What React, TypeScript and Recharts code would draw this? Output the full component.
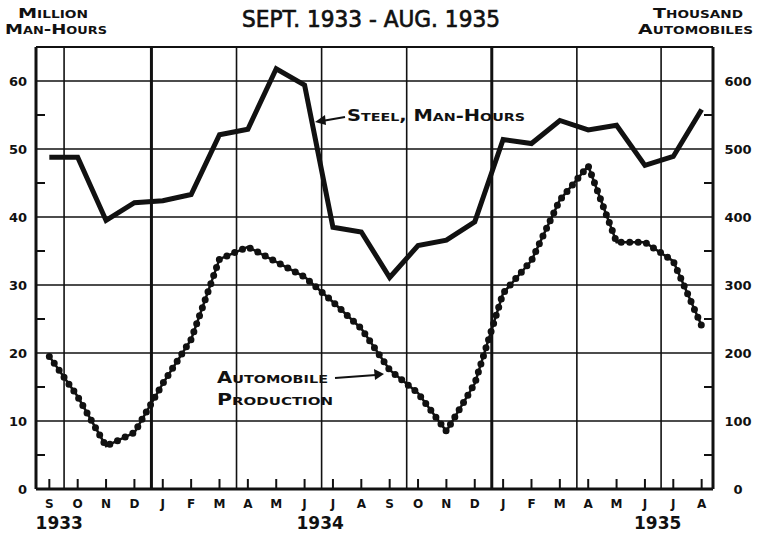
import React from "react";
import {
  ComposedChart, Line, XAxis, YAxis, ReferenceLine,
} from "recharts";

// month letters, Sept 1933 .. Aug 1935
const MONTHS = ["S", "O", "N", "D", "J", "F", "M", "A", "M", "J", "J", "A",
  "S", "O", "N", "D", "J", "F", "M", "A", "M", "J", "J", "A"];
// million man-hours (left axis)
const STEEL = [48.8, 48.8, 39.5, 42.1, 42.4, 43.3, 52.1, 52.9, 61.8, 59.4, 38.5, 37.8,
  31.1, 35.8, 36.6, 39.3, 51.4, 50.8, 54.2, 52.8, 53.5, 47.6, 48.9, 55.8];
// thousand automobiles (right axis)
const AUTOS = [195, 136, 63, 83, 155, 220, 338, 356, 334, 312, 275, 236,
  175, 141, 85, 155, 288, 336, 425, 475, 363, 363, 335, 240];

const YEARS = ["1933", "1934", "1935"];
const YEAR_POS = [0.35, 9.55, 21.45];
const LEFT_TICKS = [0, 5, 10, 15, 20, 25, 30, 35, 40, 45, 50, 55, 60];
const RIGHT_TICKS = [0, 50, 100, 150, 200, 250, 300, 350, 400, 450, 500, 550, 600];
const H_GRID = [10, 20, 30, 40, 50, 60];
const V_GRID = [0.52, 3.6, 6.6, 9.6, 12.6, 15.6, 18.6, 21.57];
const YEAR_BREAKS = [3.6, 15.6];

const data = MONTHS.map((m, i) => ({ i, m, steel: STEEL[i], autos: AUTOS[i] }));

const INK = "#111";
const FONT = "'DejaVu Sans', sans-serif";

const LeftTick = (p: any) => {
  const { x, y, payload } = p;
  const v = payload.value;
  if (v % 10 !== 0) {
    return <line x1={x} x2={x + 9} y1={y} y2={y} stroke={INK} strokeWidth={2} />;
  }
  return (
    <text x={x - 9} y={y} dy={5} textAnchor="end" fontFamily={FONT} fontWeight="bold" fontSize={13} fill={INK}>
      {v}
    </text>
  );
};

const RightTick = (p: any) => {
  const { x, y, payload } = p;
  const v = payload.value;
  if (v % 100 !== 0) {
    return <line x1={x} x2={x - 9} y1={y} y2={y} stroke={INK} strokeWidth={2} />;
  }
  return (
    <text x={x + 25} y={y} dy={5} textAnchor="middle" fontFamily={FONT} fontWeight="bold" fontSize={13} fill={INK}>
      {v}
    </text>
  );
};

const MonthTick = (p: any) => {
  const { x, y, payload } = p;
  return (
    <g>
      <line x1={x} x2={x} y1={y} y2={y - 10} stroke={INK} strokeWidth={2} />
      <text x={x} y={y + 19} textAnchor="middle" fontFamily={FONT} fontWeight="bold" fontSize={12} fill={INK}>
        {MONTHS[payload.value]}
      </text>
    </g>
  );
};

const YearTick = (p: any) => {
  const { x, y, payload } = p;
  const k = YEAR_POS.indexOf(payload.value);
  return (
    <text x={x} y={y + 15} textAnchor="middle" fontFamily={FONT} fontWeight="bold" fontSize={17} fill={INK}>
      {YEARS[k]}
    </text>
  );
};

export default function App() {
  return (
    <div style={{ position: "absolute", left: 0, top: 0, width: 761, height: 536, background: "#fff" }}>
      <ComposedChart width={761} height={536} data={data} margin={{ top: 47, right: 0, left: 0, bottom: 0 }}>
        <XAxis
          xAxisId="m" dataKey="i" type="number" domain={[-0.47, 23.4]} allowDataOverflow
          ticks={data.map((d) => d.i)} interval={0} height={25}
          tickSize={0} tickMargin={0} tickLine={false}
          axisLine={{ stroke: INK, strokeWidth: 3 }} tick={<MonthTick />}
        />
        <XAxis
          xAxisId="y" dataKey="i" type="number" domain={[-0.47, 23.4]} allowDataOverflow
          ticks={YEAR_POS} interval={0} height={22}
          tickSize={0} tickMargin={0} tickLine={false} axisLine={false} tick={<YearTick />}
        />
        <YAxis
          yAxisId="l" domain={[0, 65]} ticks={LEFT_TICKS} interval={0} width={36}
          tickSize={0} tickMargin={0} tickLine={false}
          axisLine={{ stroke: INK, strokeWidth: 3 }} tick={<LeftTick />}
        />
        <YAxis
          yAxisId="r" orientation="right" domain={[0, 650]} ticks={RIGHT_TICKS} interval={0} width={48}
          tickSize={0} tickMargin={0} tickLine={false}
          axisLine={{ stroke: INK, strokeWidth: 3 }} tick={<RightTick />}
        />

        {H_GRID.map((v) => (
          <ReferenceLine key={"h" + v} xAxisId="m" yAxisId="l" y={v} stroke={INK} strokeWidth={1.6} />
        ))}
        <ReferenceLine xAxisId="m" yAxisId="l" y={65} stroke={INK} strokeWidth={2} />
        {V_GRID.map((v) => (
          <ReferenceLine
            key={"v" + v} xAxisId="m" yAxisId="l" x={v} stroke={INK}
            strokeWidth={YEAR_BREAKS.includes(v) ? 3 : 1.6}
          />
        ))}

        <Line
          xAxisId="m" yAxisId="l" dataKey="steel" type="linear" stroke={INK} strokeWidth={5}
          strokeLinejoin="miter" dot={false} activeDot={false} isAnimationActive={false}
        />
        <Line
          xAxisId="m" yAxisId="r" dataKey="autos" type="linear" stroke={INK} strokeWidth={2.5}
          dot={false} activeDot={false} isAnimationActive={false}
        />
        <Line
          xAxisId="m" yAxisId="r" dataKey="autos" type="linear" stroke={INK} strokeWidth={7}
          strokeDasharray="0 8.5" strokeLinecap="round" dot={false} activeDot={false} isAnimationActive={false}
        />
      </ComposedChart>

      <svg width={761} height={536} style={{ position: "absolute", left: 0, top: 0, pointerEvents: "none" }}>
        <text
          x={371} y={27} textAnchor="middle" fontFamily={FONT} fontSize={23} fill={INK}
          stroke={INK} strokeWidth={0.7} textLength={258} lengthAdjust="spacingAndGlyphs"
        >
          SEPT. 1933 - AUG. 1935
        </text>
        <g fontFamily={FONT} fontWeight="bold" fontSize={14} fill={INK} style={{ fontVariant: "small-caps" }}>
          <text x={18} y={18} textLength={70} lengthAdjust="spacingAndGlyphs">Million</text>
          <text x={5} y={34} textLength={102} lengthAdjust="spacingAndGlyphs">Man-Hours</text>
          <text x={653} y={18} textLength={90} lengthAdjust="spacingAndGlyphs">Thousand</text>
          <text x={638} y={34} textLength={115} lengthAdjust="spacingAndGlyphs">Automobiles</text>
        </g>
        <g fontFamily={FONT} fontWeight="bold" fontSize={15} fill={INK} style={{ fontVariant: "small-caps" }}>
          <text x={347} y={121} textLength={178} lengthAdjust="spacingAndGlyphs">Steel, Man-Hours</text>
          <text x={217} y={383} textLength={111} lengthAdjust="spacingAndGlyphs">Automobile</text>
          <text x={217} y={405} textLength={116} lengthAdjust="spacingAndGlyphs">Production</text>
        </g>
        <line x1={345} y1={117} x2={322} y2={121} stroke={INK} strokeWidth={2} />
        <polygon points="315,122 325,115 326,125" fill={INK} />
        <line x1={335} y1={378} x2={376} y2={375} stroke={INK} strokeWidth={2} />
        <polygon points="384,374 374,369 375,380" fill={INK} />
      </svg>
    </div>
  );
}
